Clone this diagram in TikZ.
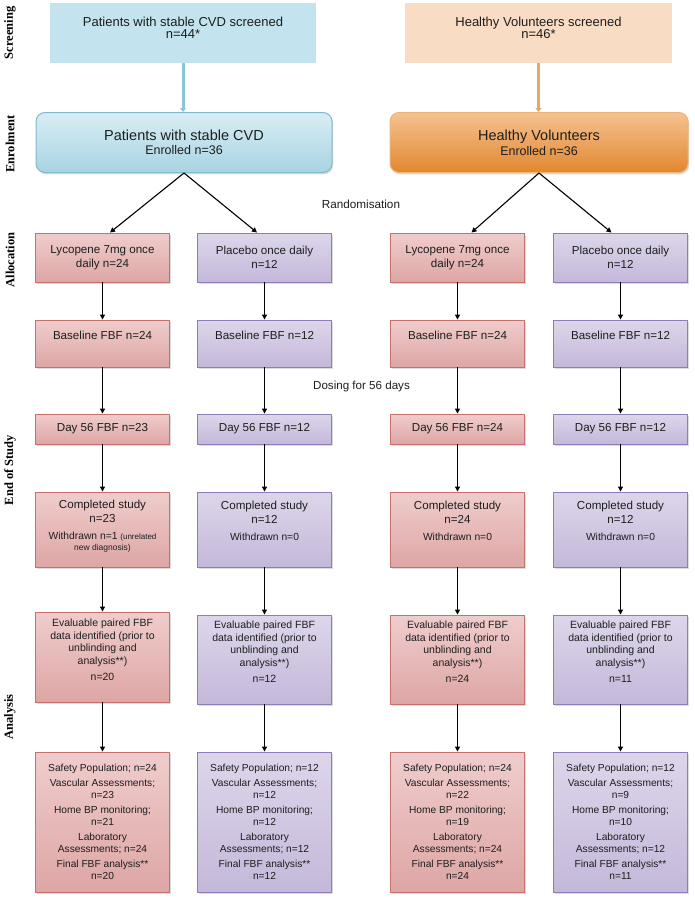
\documentclass[tikz,border=0pt]{standalone}
\usepackage{fontspec}
\setmainfont{Liberation Sans}
\newfontfamily\labfont{Liberation Serif}
\usetikzlibrary{arrows.meta,shadows,calc}
\definecolor{scrblue}{HTML}{C3E3EE}
\definecolor{scrpeach}{HTML}{F8DCC3}
\definecolor{enrbtop}{HTML}{D8EEF5}
\definecolor{enrbbot}{HTML}{A9D3E2}
\definecolor{enrbdraw}{HTML}{82B9CD}
\definecolor{enrotop}{HTML}{F5C291}
\definecolor{enrobot}{HTML}{E2872E}
\definecolor{enrodraw}{HTML}{EFB47C}
\definecolor{redtop}{HTML}{EFCDCC}
\definecolor{redbot}{HTML}{DDA6A5}
\definecolor{reddraw}{HTML}{C8706D}
\definecolor{purtop}{HTML}{DDD6EA}
\definecolor{purbot}{HTML}{C4B8DA}
\definecolor{purdraw}{HTML}{8E7DB8}
\definecolor{arrblue}{HTML}{8CC4D8}
\definecolor{arrorange}{HTML}{E9A767}
\definecolor{txtc}{HTML}{1E1E1E}
\begin{document}
\begin{tikzpicture}[x=1pt,y=-1pt,
  shadowed/.style={drop shadow={opacity=0.28,shadow xshift=1.2pt,shadow yshift=-1.8pt}},
  box/.style={draw, line width=0.9pt, minimum width=134pt, align=center, inner sep=1pt,
    shadowed, text=txtc, font=\fontsize{11.6}{13.5}\selectfont},
  lyc/.style={box, draw=reddraw, top color=redtop, bottom color=redbot},
  pla/.style={box, draw=purdraw, top color=purtop, bottom color=purbot},
  txt/.style={align=center, inner sep=0pt, text=txtc},
  arr/.style={-{Triangle[length=5pt,width=5pt]}, line width=1.1pt},
  scrarr/.style={-{Triangle[length=4pt,width=6pt]}, line width=3pt},
  stage/.style={rotate=90, inner sep=0pt, font=\labfont\bfseries\fontsize{12.5}{14}\selectfont}]
\useasboundingbox (0,0) rectangle (695,902);
\fill[white] (0,0) rectangle (695,902);

% stage labels
\node[stage] (lscr) at (10,33) {Screening};
\node[stage] (lenr) at (10,144) {Enrolment};
\node[stage] (lall) at (10,260) {Allocation};
\node[stage] (lend) at (10,470) {End of Study};
\node[stage] (lana) at (10,717) {Analysis};

% screening
\node[draw=none, fill=scrblue, minimum width=266pt, minimum height=60pt, inner sep=0pt] (sL) at (183,33) {};
\node[txt, font=\fontsize{13}{12.5}\selectfont] (tsL) at (183,28) {Patients with stable CVD screened\\n=44*};
\node[draw=none, fill=scrpeach, minimum width=267pt, minimum height=60pt, inner sep=0pt] (sR) at (538.5,33) {};
\node[txt, font=\fontsize{13}{12.5}\selectfont] (tsR) at (538.5,28) {Healthy Volunteers screened\\n=46*};

% enrolment
\node[draw=enrbdraw, line width=1pt, rounded corners=9pt, top color=enrbtop, bottom color=enrbbot,
  minimum width=296pt, minimum height=60pt, shadowed, align=center, text=txtc] (eL) at (184,142.5)
  {{\fontsize{14.5}{16}\selectfont Patients with stable CVD}\\[2pt]{\fontsize{12.5}{14}\selectfont Enrolled n=36}};
\node[draw=enrodraw, line width=1pt, rounded corners=9pt, top color=enrotop, bottom color=enrobot,
  minimum width=298pt, minimum height=60pt, shadowed, align=center, text=txtc] (eR) at (539,142.5)
  {{\fontsize{14.5}{16}\selectfont Healthy Volunteers}\\[2pt]{\fontsize{12.5}{14}\selectfont Enrolled n=36}};

\draw[scrarr, arrblue] (sL.south) -- (sL.south |- eL.north);
\draw[scrarr, arrorange] (sR.south) -- (sR.south |- eR.north);

% allocation
\node[lyc, minimum height=49pt] (a1) at (102.5,257.5) {Lycopene 7mg once\\daily n=24};
\node[pla, minimum height=49pt] (a2) at (264.5,257.5) {Placebo once daily\\n=12};
\node[lyc, minimum height=49pt] (a3) at (457.5,257.5) {Lycopene 7mg once\\daily n=24};
\node[pla, minimum height=49pt] (a4) at (620.5,257.5) {Placebo once daily\\n=12};

\node[txt, font=\fontsize{11.7}{13}\selectfont] (rand) at (361,204) {Randomisation};

\draw[arr] (eL.south) -- ($(a1.north)+(7.5,0)$);
\draw[arr] (eL.south) -- ($(a2.north)+(-7.5,0)$);
\draw[arr] (eR.south) -- ($(a3.north)+(14,0)$);
\draw[arr] (eR.south) -- ($(a4.north)+(-9,0)$);

% baseline
\node[lyc, minimum height=47pt] (b1) at (102.5,343.5) {};
\node[pla, minimum height=47pt] (b2) at (264.5,343.5) {};
\node[lyc, minimum height=47pt] (b3) at (457.5,343.5) {};
\node[pla, minimum height=47pt] (b4) at (620.5,343.5) {};
\node[txt, font=\fontsize{11.6}{13}\selectfont] (tb1) at (102.5,335) {Baseline FBF n=24};
\node[txt, font=\fontsize{11.6}{13}\selectfont] (tb2) at (264.5,335) {Baseline FBF n=12};
\node[txt, font=\fontsize{11.6}{13}\selectfont] (tb3) at (457.5,335) {Baseline FBF n=24};
\node[txt, font=\fontsize{11.6}{13}\selectfont] (tb4) at (620.5,335) {Baseline FBF n=12};

\node[txt, font=\fontsize{11.6}{13}\selectfont] (dose) at (361.5,386) {Dosing for 56 days};

% day 56
\node[lyc, minimum height=30pt] (d1) at (102.5,429) {Day 56 FBF n=23};
\node[pla, minimum height=30pt] (d2) at (264.5,429) {Day 56 FBF n=12};
\node[lyc, minimum height=30pt] (d3) at (457.5,429) {Day 56 FBF n=24};
\node[pla, minimum height=30pt] (d4) at (620.5,429) {Day 56 FBF n=12};

% completed
\node[lyc, minimum height=75pt] (c1) at (102.5,529.5) {};
\node[pla, minimum height=75pt] (c2) at (264.5,529.5) {};
\node[lyc, minimum height=75pt] (c3) at (457.5,529.5) {};
\node[pla, minimum height=75pt] (c4) at (620.5,529.5) {};
\node[txt, font=\fontsize{11.6}{14}\selectfont] (tc1) at (102.5,526) {Completed study\\n=23\\[3pt]
  {\fontsize{10.3}{11}\selectfont Withdrawn n=1 {\fontsize{8}{9}\selectfont(unrelated}}\\[-3pt]{\fontsize{8.5}{9}\selectfont new diagnosis)}};
\node[txt, font=\fontsize{11.6}{14}\selectfont] (tc2) at (264.5,521) {Completed study\\n=12\\[3pt]{\fontsize{10.3}{11}\selectfont Withdrawn n=0}};
\node[txt, font=\fontsize{11.6}{14}\selectfont] (tc3) at (457.5,521) {Completed study\\n=24\\[3pt]{\fontsize{10.3}{11}\selectfont Withdrawn n=0}};
\node[txt, font=\fontsize{11.6}{14}\selectfont] (tc4) at (620.5,521) {Completed study\\n=12\\[3pt]{\fontsize{10.3}{11}\selectfont Withdrawn n=0}};

% evaluable
\node[lyc, minimum height=90pt] (v1) at (102.5,657) {};
\node[pla, minimum height=89pt] (v2) at (264.5,659.5) {};
\node[lyc, minimum height=89pt] (v3) at (457.5,659.5) {};
\node[pla, minimum height=89pt] (v4) at (620.5,659.5) {};
\node[txt, font=\fontsize{10.5}{12.5}\selectfont] (tv1) at (102.5,650) {Evaluable paired FBF\\data identified (prior to\\unblinding and\\analysis**)\\[4pt]n=20};
\node[txt, font=\fontsize{10.5}{12.5}\selectfont] (tv2) at (264.5,652) {Evaluable paired FBF\\data identified (prior to\\unblinding and\\analysis**)\\[4pt]n=12};
\node[txt, font=\fontsize{10.5}{12.5}\selectfont] (tv3) at (457.5,652) {Evaluable paired FBF\\data identified (prior to\\unblinding and\\analysis**)\\[4pt]n=24};
\node[txt, font=\fontsize{10.5}{12.5}\selectfont] (tv4) at (620.5,652) {Evaluable paired FBF\\data identified (prior to\\unblinding and\\analysis**)\\[4pt]n=11};

% analysis
\tikzset{an/.style={font=\fontsize{10.2}{12}\selectfont, minimum height=140pt}}
\node[lyc, an] (n1) at (102.5,822) {Safety Population; n=24\\[3pt]Vascular Assessments;\\n=23\\[3pt]Home BP monitoring;\\n=21\\[3pt]Laboratory\\Assessments; n=24\\[3pt]Final FBF analysis**\\n=20};
\node[pla, an] (n2) at (264.5,822) {Safety Population; n=12\\[3pt]Vascular Assessments;\\n=12\\[3pt]Home BP monitoring;\\n=12\\[3pt]Laboratory\\Assessments; n=12\\[3pt]Final FBF analysis**\\n=12};
\node[lyc, an] (n3) at (457.5,822) {Safety Population; n=24\\[3pt]Vascular Assessments;\\n=22\\[3pt]Home BP monitoring;\\n=19\\[3pt]Laboratory\\Assessments; n=24\\[3pt]Final FBF analysis**\\n=24};
\node[pla, an] (n4) at (620.5,822) {Safety Population; n=12\\[3pt]Vascular Assessments;\\n=9\\[3pt]Home BP monitoring;\\n=10\\[3pt]Laboratory\\Assessments; n=12\\[3pt]Final FBF analysis**\\n=11};

% vertical arrows
\foreach \i in {1,2,3,4}{
  \draw[arr] (a\i.south) -- (b\i.north);
  \draw[arr] (b\i.south) -- (d\i.north);
  \draw[arr] (d\i.south) -- (c\i.north);
  \draw[arr] (c\i.south) -- (v\i.north);
  \draw[arr] (v\i.south) -- (n\i.north);
}
\end{tikzpicture}
\end{document}
